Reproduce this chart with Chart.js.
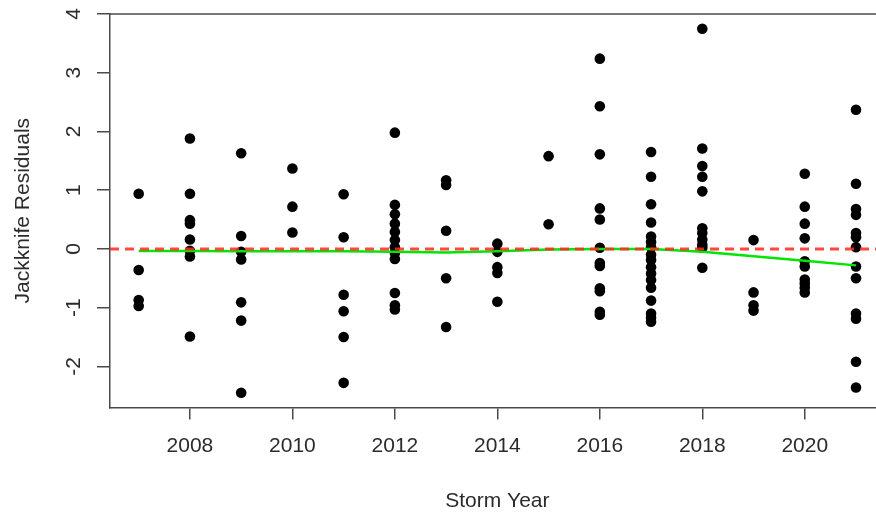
<!DOCTYPE html>
<html>
<head>
<meta charset="utf-8">
<script src="https://cdn.jsdelivr.net/npm/chart.js@4"></script>
<style>
  html, body { margin: 0; padding: 0; background: #ffffff; overflow: hidden; }
  #chart { display: block; }
</style>
</head>
<body>
<canvas id="chart" width="890" height="512"></canvas>
<script>
// Storm years on the x axis
const years = [2007, 2008, 2009, 2010, 2011, 2012, 2013, 2014, 2015, 2016, 2017, 2018, 2019, 2020, 2021];

// Jackknife residuals observed in each storm year
const res2007 = [0.94, -0.36, -0.87, -0.97];
const res2008 = [1.88, 0.94, 0.49, 0.43, 0.16, -0.03, -0.13, -1.49];
const res2009 = [1.63, 0.22, -0.05, -0.18, -0.91, -1.22, -2.45];
const res2010 = [1.37, 0.72, 0.28];
const res2011 = [0.93, 0.20, -0.78, -1.06, -1.50, -2.28];
const res2012 = [1.98, 0.75, 0.59, 0.43, 0.29, 0.15, 0.03, -0.07, -0.17, -0.75, -0.96, -1.03];
const res2013 = [1.17, 1.09, 0.31, -0.50, -1.33];
const res2014 = [0.09, -0.05, -0.31, -0.41, -0.90];
const res2015 = [1.58, 0.42];
const res2016 = [3.24, 2.43, 1.61, 0.69, 0.50, 0.02, -0.24, -0.29, -0.67, -0.72, -1.07, -1.12];
const res2017 = [1.65, 1.23, 0.76, 0.45, 0.21, 0.12, 0.03, -0.10, -0.19, -0.31, -0.42, -0.53, -0.66, -0.88, -1.10, -1.17, -1.24];
const res2018 = [3.75, 1.71, 1.41, 1.23, 0.98, 0.35, 0.27, 0.16, 0.07, 0.02, -0.32];
const res2019 = [0.15, -0.74, -0.96, -1.05];
const res2020 = [1.28, 0.72, 0.43, 0.18, -0.21, -0.30, -0.52, -0.59, -0.66, -0.74];
const res2021 = [2.37, 1.11, 0.68, 0.58, 0.27, 0.20, 0.03, -0.30, -0.50, -1.10, -1.19, -1.92, -2.36];

// Smoothed (lowess) trend of the residuals by year
const smoothFit = [-0.035, -0.035, -0.04, -0.04, -0.04, -0.05, -0.06, -0.04, -0.01, 0.0, 0.0, -0.05, -0.125, -0.20, -0.28];

// Axis ticks and limits
const xTicks = [2008, 2010, 2012, 2014, 2016, 2018, 2020];
const yTicks = [-2, -1, 0, 1, 2, 3, 4];
const xLimits = [2006.44, 2021.56];
const yLimits = [-2.7, 4.0];

const residualsByYear = [res2007, res2008, res2009, res2010, res2011, res2012, res2013, res2014,
                         res2015, res2016, res2017, res2018, res2019, res2020, res2021];

const residualPoints = [];
residualsByYear.forEach((vals, i) => {
  vals.forEach(v => residualPoints.push({ x: years[i], y: v }));
});
const smoothPoints = years.map((yr, i) => ({ x: yr, y: smoothFit[i] }));
const zeroLine = [{ x: xLimits[0], y: 0 }, { x: xLimits[1], y: 0 }];

const axisColor = '#4a4a4a';
const textColor = '#2b2b2b';
const fontFamily = '"Liberation Sans", Arial, Helvetica, sans-serif';

// Closes the plot frame along the top edge
const topFrame = {
  id: 'topFrame',
  afterDraw(chart) {
    const { ctx, chartArea } = chart;
    ctx.save();
    ctx.strokeStyle = axisColor;
    ctx.lineWidth = 1.5;
    ctx.beginPath();
    ctx.moveTo(chartArea.left, chartArea.top);
    ctx.lineTo(chartArea.right, chartArea.top);
    ctx.stroke();
    ctx.restore();
  }
};

new Chart(document.getElementById('chart'), {
  type: 'scatter',
  data: {
    datasets: [
      {
        type: 'line',
        data: zeroLine,
        borderColor: 'rgba(255, 40, 30, 0.85)',
        borderWidth: 3,
        borderDash: [9, 6],
        pointRadius: 0,
        fill: false,
        order: 1
      },
      {
        type: 'line',
        data: smoothPoints,
        borderColor: '#00e600',
        borderWidth: 2.5,
        pointRadius: 0,
        tension: 0,
        fill: false,
        order: 2
      },
      {
        type: 'scatter',
        data: residualPoints,
        backgroundColor: '#000000',
        borderWidth: 0,
        pointRadius: 5.3,
        pointHoverRadius: 5.3,
        order: 3
      }
    ]
  },
  options: {
    responsive: false,
    devicePixelRatio: 1,
    animation: false,
    events: [],
    layout: { padding: { top: 14, right: 0, bottom: 0, left: 0 } },
    plugins: {
      legend: { display: false },
      tooltip: { enabled: false }
    },
    scales: {
      x: {
        type: 'linear',
        min: xLimits[0],
        max: xLimits[1],
        afterBuildTicks: (scale) => { scale.ticks = xTicks.map(v => ({ value: v })); },
        afterFit: (scale) => {
          scale.height = 104.5;
          scale.paddingLeft = 0;
          scale.paddingRight = 0;
        },
        border: { display: true, color: axisColor, width: 1.5 },
        grid: { display: true, drawOnChartArea: false, drawTicks: true, tickLength: 12, color: axisColor, lineWidth: 1.5 },
        ticks: {
          color: textColor,
          font: { family: fontFamily, size: 21 },
          padding: 14,
          maxRotation: 0,
          autoSkip: false,
          callback: (v) => String(v)
        },
        title: {
          display: true,
          text: 'Storm Year',
          color: textColor,
          font: { family: fontFamily, size: 21 },
          padding: { top: 0, bottom: -1.5 }
        }
      },
      y: {
        type: 'linear',
        min: yLimits[0],
        max: yLimits[1],
        afterBuildTicks: (scale) => { scale.ticks = yTicks.map(v => ({ value: v })); },
        afterFit: (scale) => {
          scale.width = 110;
          scale.paddingTop = 0;
          scale.paddingBottom = 0;
        },
        border: { display: true, color: axisColor, width: 1.5 },
        grid: { display: true, drawOnChartArea: false, drawTicks: true, tickLength: 13, color: axisColor, lineWidth: 1.5 },
        ticks: {
          color: textColor,
          font: { family: fontFamily, size: 21 },
          padding: 13,
          minRotation: 90,
          maxRotation: 90,
          crossAlign: 'center',
          autoSkip: false,
          callback: (v) => String(v)
        },
        title: {
          display: true,
          text: 'Jackknife Residuals',
          color: textColor,
          font: { family: fontFamily, size: 21 },
          padding: { top: 11, bottom: 0 }
        }
      }
    }
  },
  plugins: [topFrame]
});
</script>
</body>
</html>
